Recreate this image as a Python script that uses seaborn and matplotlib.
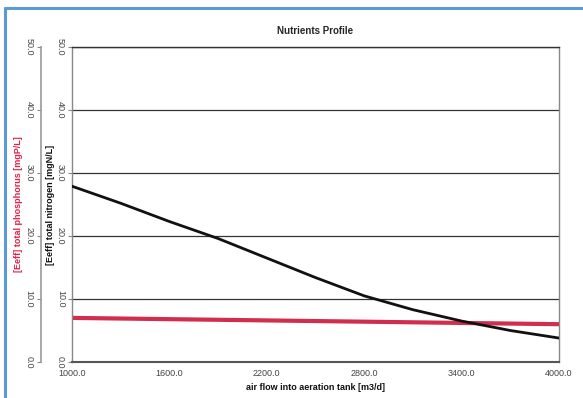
import matplotlib
matplotlib.use("Agg")
import matplotlib.pyplot as plt
import seaborn as sns
import pandas as pd
from matplotlib.ticker import FormatStrFormatter
from matplotlib.lines import Line2D

# data
air_flow_n = [1000, 1300, 1600, 1900, 2200, 2500, 2800, 3100, 3400, 3700, 4000]
nitrogen = [27.9, 25.2, 22.3, 19.6, 16.5, 13.4, 10.5, 8.3, 6.5, 5.0, 3.8]
air_flow_p = [1000, 1600, 2200, 2800, 3400, 4000]
phosphorus = [7.0, 6.8, 6.6, 6.4, 6.2, 6.0]
x_ticks = [1000, 1600, 2200, 2800, 3400, 4000]
y_ticks = [0, 10, 20, 30, 40, 50]

title = "Nutrients Profile"
xlabel = "air flow into aeration tank [m3/d]"
ylabel_n = "[Eeff] total nitrogen [mgN/L]"
ylabel_p = "[Eeff] total phosphorus [mgP/L]"

sns.set_style("white")
plt.rcParams['font.family'] = ['Liberation Sans', 'DejaVu Sans']

fig = plt.figure(figsize=(5.83, 3.98), dpi=100)
ax = fig.add_axes([72/583, 1-362/398, (559-72)/583, (362-47)/398])

df_n = pd.DataFrame({"x": air_flow_n, "y": nitrogen})
df_p = pd.DataFrame({"x": air_flow_p, "y": phosphorus})

ax2 = ax.twinx()
sns.lineplot(data=df_p, x="x", y="y", ax=ax2, color="#cc1638", lw=3.0, alpha=0.9)
sns.lineplot(data=df_n, x="x", y="y", ax=ax, color="#111111", lw=2.0, zorder=5)
ax.set_zorder(ax2.get_zorder() + 1)
ax.patch.set_visible(False)

for a in (ax, ax2):
    a.set_ylim(0, 50)
    a.set_yticks(y_ticks)
    a.yaxis.set_major_formatter(FormatStrFormatter('%.1f'))
ax.set_xlim(1000, 4000)
ax.set_xticks(x_ticks)
ax.xaxis.set_major_formatter(FormatStrFormatter('%.1f'))

ax.grid(axis='y', color='#333333', lw=0.9)
for s in ax.spines.values():
    s.set_color('#888888'); s.set_linewidth(1.0)
ax.spines['top'].set_color('#333333')
ax.spines['bottom'].set_color('#555555'); ax.spines['bottom'].set_linewidth(1.5)

ax2.spines['left'].set_position(('outward', 22.5))
ax2.spines['left'].set_visible(True)
ax2.spines['left'].set_color('#999999')
ax2.spines['left'].set_linewidth(1.2)
ax2.spines['right'].set_visible(False)
ax2.spines['top'].set_visible(False)
ax2.spines['bottom'].set_visible(False)
ax2.yaxis.set_ticks_position('left')
ax2.yaxis.set_label_position('left')

tick_kw = dict(labelsize=6.5, labelcolor='#444444', length=3, color='#888888', pad=2)
ax.tick_params(axis='y', **tick_kw)
ax2.tick_params(axis='y', **tick_kw)
ax.tick_params(axis='x', labelsize=6.5, labelcolor='#444444', length=2, color='#888888', pad=3)
for lab in ax.get_yticklabels() + ax2.get_yticklabels():
    lab.set_rotation(270)
    lab.set_va('center')

ax.set_xlabel(xlabel, fontsize=6.5, fontweight='bold', labelpad=4, color='#111111')
ax.set_ylabel(ylabel_n, fontsize=6.5, fontweight='bold', labelpad=1, color='#111111')
ax2.set_ylabel(ylabel_p, fontsize=6.5, fontweight='bold', labelpad=1, color='#e0204a')
ax.set_title(title, fontsize=7, fontweight='bold', pad=9)

# blue frame of the source image
fig.add_artist(Line2D([5/583, 5/583], [0, 1-8/398], transform=fig.transFigure, color='#5b9bd5', lw=2.2))
fig.add_artist(Line2D([5/583, 1], [1-8/398, 1-8/398], transform=fig.transFigure, color='#5b9bd5', lw=2.2))

fig.savefig("out.png", dpi=100)
